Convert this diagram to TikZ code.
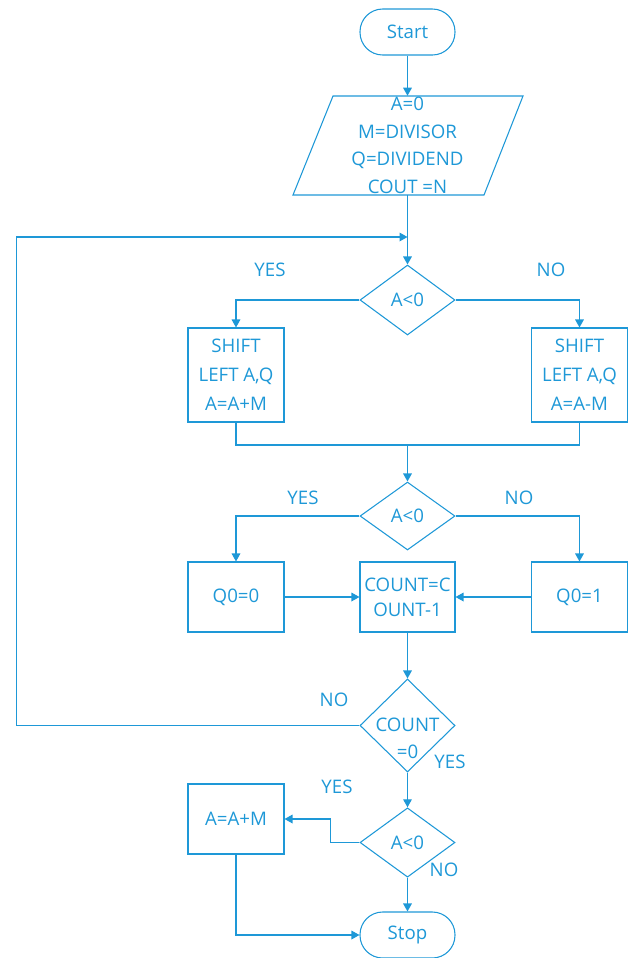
\documentclass[tikz,border=0pt]{standalone}
\usepackage{fontspec}
\setmainfont{Open Sans}
\usetikzlibrary{arrows.meta,shapes.geometric}
\definecolor{fc}{RGB}{30,152,215}
\tikzset{
  base/.style={draw=fc,line width=0.8pt,text=fc,align=center,inner sep=0pt},
  term/.style={base,rounded corners=17pt,minimum width=71.25pt,minimum height=34.5pt},
  box/.style={base,minimum width=72pt},
  dia/.style={draw=fc,line width=0.8pt,diamond,inner sep=0pt,minimum width=71.25pt},
  txt/.style={text=fc,align=center,inner sep=0pt},
  lab/.style={text=fc,inner sep=0pt},
  conn/.style={draw=fc,line width=0.9pt},
  arr/.style={conn,-{Triangle[length=6pt,width=6.5pt]}}
}
\begin{document}
\begin{tikzpicture}[x=0.75pt,y=-0.75pt,font=\fontsize{14}{18}\selectfont]
\useasboundingbox (0,0) rectangle (631,958);
% nodes
\node[term] (start) at (407.5,32) {Start};
\draw[fc,line width=0.8pt] (333,96) -- (523,96) -- (484,195) -- (293,195) -- cycle;
\node[txt,minimum width=150pt,minimum height=74.25pt,font=\fontsize{14}{20.6}\selectfont] (para) at (407.5,145.5) {A=0\\M=DIVISOR\\Q=DIVIDEND\\COUT =N};
\coordinate (join) at (407.5,237);
\node[dia,minimum height=52.5pt] (d1) at (407.5,300) {};
\node[txt] at (d1) {A<0};
\node[box,minimum height=70.5pt,font=\fontsize{14}{21.75}\selectfont] (sh1) at (236,375) {SHIFT\\LEFT A,Q\\A=A+M};
\node[box,minimum height=70.5pt,font=\fontsize{14}{21.75}\selectfont] (sh2) at (579.5,375) {SHIFT\\LEFT A,Q\\A=A-M};
\coordinate (m2) at (407.5,445);
\node[dia,minimum height=51pt] (d2) at (407.5,516) {};
\node[txt] at (d2) {A<0};
\node[box,minimum height=52.5pt] (q0) at (236,597) {Q0=0};
\node[box,minimum height=52.5pt] (q1) at (579.5,597) {Q0=1};
\node[box,minimum width=71.25pt,minimum height=52.5pt,font=\fontsize{14}{18.75}\selectfont] (cnt) at (407.5,597) {COUNT=C\\OUNT-1};
\node[dia,minimum height=69.75pt] (d3) at (407.5,725.5) {};
\node[txt,font=\fontsize{14}{20}\selectfont] at (407.5,738) {COUNT\\=0};
\node[dia,minimum height=52pt] (d4) at (407.5,842.5) {};
\node[txt] at (d4) {A<0};
\node[box,minimum height=52.5pt] (res) at (236,819) {A=A+M};
\node[term] (stop) at (407.5,935) {Stop};
% labels
\node[lab] at (270,270) {YES};
\node[lab] at (551,270) {NO};
\node[lab] at (303,498) {YES};
\node[lab] at (519,498) {NO};
\node[lab] at (334,700) {NO};
\node[lab] at (450,762) {YES};
\node[lab] at (337,787) {YES};
\node[lab] at (444,870) {NO};
% connectors
\draw[arr] (start) -- (para);
\draw[arr] (para) -- (d1);
\draw[arr] (d1.west) -| (sh1.north);
\draw[arr] (d1.east) -| (sh2.north);
\draw[conn] (sh1.south) |- (m2) -| (sh2.south);
\draw[arr] (m2) -- (d2);
\draw[arr] (d2.west) -| (q0.north);
\draw[arr] (d2.east) -| (q1.north);
\draw[arr] (q0) -- (cnt);
\draw[arr] (q1) -- (cnt);
\draw[arr] (cnt) -- (d3);
\draw[arr] (d3.west) -- ++(-343,0) |- (join);
\draw[arr] (d3) -- (d4);
\draw[arr] (d4.west) -- ++(-29,0) |- (res.east);
\draw[arr] (d4) -- (stop);
\draw[arr] (res.south) |- (stop.west);
\end{tikzpicture}
\end{document}
